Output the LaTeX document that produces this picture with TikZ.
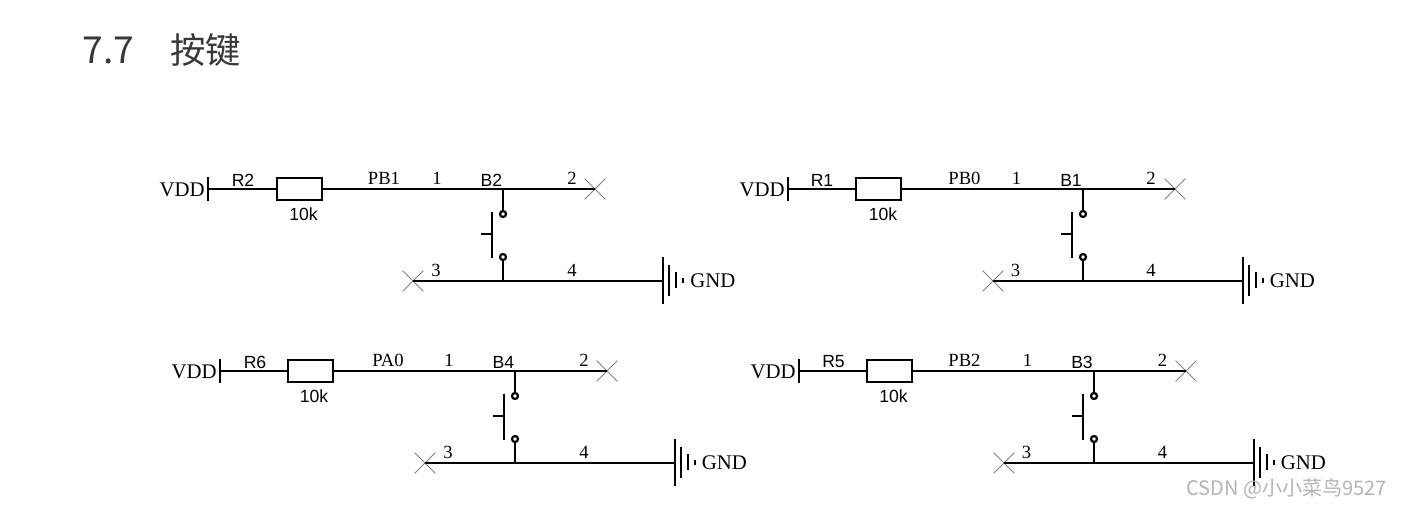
\documentclass[tikz,border=0pt]{standalone}
\usepackage{fontspec}
\setmainfont{Liberation Serif}
\setsansfont{Liberation Sans}
\newfontfamily\cjkfont{Noto Sans CJK SC}
\usetikzlibrary{shapes.misc}
\definecolor{markgray}{HTML}{B4B4B4}
\tikzset{
    wire/.style={line width=1.05pt},
    res/.style={draw,line width=1.05pt,minimum width=22.5pt,minimum height=11pt,inner sep=0pt},
    pad/.style={draw,circle,line width=1.1pt,minimum size=3pt,inner sep=0pt},
    nc/.style={draw=gray,cross out,line width=0.4pt,minimum size=10pt,inner sep=0pt},
    pinlabel/.style={inner sep=0pt,font=\fontsize{9.3}{11}\selectfont},
    netlabel/.style={inner sep=0pt,font=\fontsize{10.4}{12}\selectfont},
    partlabel/.style={inner sep=0pt,font=\sffamily\fontsize{8.8}{10}\selectfont}
}
\begin{document}
\begin{tikzpicture}[x=0.5pt,y=-0.5pt]
    \useasboundingbox (0,0) rectangle (1401,508);
    \node[inner sep=0pt,anchor=west,font=\cjkfont\fontsize{18.6}{20}\selectfont,text=black!78] (title) at (82,50) {7.7};
    \node[inner sep=0pt,anchor=west,font=\cjkfont\fontsize{17.7}{20}\selectfont,text=black!78] (titlecn) at (170,50) {按键};
    % R2 B2
    \begin{scope}
        \coordinate (r2vdd) at (208,189);
        \coordinate (b2top) at (503,189);
        \coordinate (b2bot) at (503,281);
        \coordinate (b2gnd) at (663,281);
        \node[res] (r2) at (299.5,189) {};
        \node[nc] (b2x2) at (595,189) {};
        \node[nc] (b2x3) at (413,281) {};
        \node[pad] (b2a) at (503,214) {};
        \node[pad] (b2b) at (503,257) {};
        \draw[wire] (r2vdd) -- (r2);
        \draw[wire] (r2) -- (b2x2.center);
        \draw[wire] (b2top) -- (b2a);
        \draw[wire] (b2b) -- (b2bot);
        \draw[wire] (b2x3.center) -- (b2gnd);
        \draw[wire] (208,177) -- (208,201);
        \draw[wire] (492,212) -- (492,258) (481,234) -- (492,234);
        \draw[wire] (663,257) -- (663,304) (669,265) -- (669,296) (676,272) -- (676,288) (683,278) -- (683,283);
        \node[netlabel,anchor=east] (vdd2) at (205,190) {VDD};
        \node[partlabel] (r2name) at (243,180) {R2};
        \node[partlabel] (r2val) at (303.5,214.5) {10k};
        \node[pinlabel] (net2) at (384,178) {PB1};
        \node[pinlabel] (b2p1) at (437,178) {1};
        \node[partlabel] (b2name) at (491.5,180) {B2};
        \node[pinlabel] (b2p2) at (572,178) {2};
        \node[pinlabel] (b2p3) at (436,270) {3};
        \node[pinlabel] (b2p4) at (572,270) {4};
        \node[netlabel,anchor=west] (gnd2) at (690,281) {GND};
    \end{scope}
    % R1 B1
    \begin{scope}[shift={(580,0)}]
        \coordinate (r1vdd) at (208,189);
        \coordinate (b1top) at (503,189);
        \coordinate (b1bot) at (503,281);
        \coordinate (b1gnd) at (663,281);
        \node[res] (r1) at (298.5,189) {};
        \node[nc] (b1x2) at (595,189) {};
        \node[nc] (b1x3) at (413,281) {};
        \node[pad] (b1a) at (503,214) {};
        \node[pad] (b1b) at (503,257) {};
        \draw[wire] (r1vdd) -- (r1);
        \draw[wire] (r1) -- (b1x2.center);
        \draw[wire] (b1top) -- (b1a);
        \draw[wire] (b1b) -- (b1bot);
        \draw[wire] (b1x3.center) -- (b1gnd);
        \draw[wire] (208,177) -- (208,201);
        \draw[wire] (492,212) -- (492,258) (481,234) -- (492,234);
        \draw[wire] (663,257) -- (663,304) (669,265) -- (669,296) (676,272) -- (676,288) (683,278) -- (683,283);
        \node[netlabel,anchor=east] (vdd1) at (205,190) {VDD};
        \node[partlabel] (r1name) at (242,180) {R1};
        \node[partlabel] (r1val) at (303,214.5) {10k};
        \node[pinlabel] (net1) at (384.5,178) {PB0};
        \node[pinlabel] (b1p1) at (436.5,178) {1};
        \node[partlabel] (b1name) at (491,180) {B1};
        \node[pinlabel] (b1p2) at (571,178) {2};
        \node[pinlabel] (b1p3) at (435.5,270) {3};
        \node[pinlabel] (b1p4) at (571,270) {4};
        \node[netlabel,anchor=west] (gnd1) at (689.5,281) {GND};
    \end{scope}
    % R6 B4
    \begin{scope}[shift={(12,182)}]
        \coordinate (r6vdd) at (208,189);
        \coordinate (b4top) at (503,189);
        \coordinate (b4bot) at (503,281);
        \coordinate (b4gnd) at (663,281);
        \node[res] (r6) at (298.5,189) {};
        \node[nc] (b4x2) at (595,189) {};
        \node[nc] (b4x3) at (413,281) {};
        \node[pad] (b4a) at (503,214) {};
        \node[pad] (b4b) at (503,257) {};
        \draw[wire] (r6vdd) -- (r6);
        \draw[wire] (r6) -- (b4x2.center);
        \draw[wire] (b4top) -- (b4a);
        \draw[wire] (b4b) -- (b4bot);
        \draw[wire] (b4x3.center) -- (b4gnd);
        \draw[wire] (208,177) -- (208,201);
        \draw[wire] (492,212) -- (492,258) (481,234) -- (492,234);
        \draw[wire] (663,257) -- (663,304) (669,265) -- (669,296) (676,272) -- (676,288) (683,278) -- (683,283);
        \node[netlabel,anchor=east] (vdd6) at (205,190) {VDD};
        \node[partlabel] (r6name) at (243,180) {R6};
        \node[partlabel] (r6val) at (302,214.5) {10k};
        \node[pinlabel] (net6) at (376,178) {PA0};
        \node[pinlabel] (b4p1) at (437,178) {1};
        \node[partlabel] (b4name) at (491.5,180) {B4};
        \node[pinlabel] (b4p2) at (572,178) {2};
        \node[pinlabel] (b4p3) at (436,270) {3};
        \node[pinlabel] (b4p4) at (572,270) {4};
        \node[netlabel,anchor=west] (gnd6) at (689.5,281) {GND};
    \end{scope}
    % R5 B3
    \begin{scope}[shift={(591,182)}]
        \coordinate (r5vdd) at (208,189);
        \coordinate (b3top) at (503,189);
        \coordinate (b3bot) at (503,281);
        \coordinate (b3gnd) at (663,281);
        \node[res] (r5) at (298.5,189) {};
        \node[nc] (b3x2) at (595,189) {};
        \node[nc] (b3x3) at (413,281) {};
        \node[pad] (b3a) at (503,214) {};
        \node[pad] (b3b) at (503,257) {};
        \draw[wire] (r5vdd) -- (r5);
        \draw[wire] (r5) -- (b3x2.center);
        \draw[wire] (b3top) -- (b3a);
        \draw[wire] (b3b) -- (b3bot);
        \draw[wire] (b3x3.center) -- (b3gnd);
        \draw[wire] (208,177) -- (208,201);
        \draw[wire] (492,212) -- (492,258) (481,234) -- (492,234);
        \draw[wire] (663,257) -- (663,304) (669,265) -- (669,296) (676,272) -- (676,288) (683,278) -- (683,283);
        \node[netlabel,anchor=east] (vdd5) at (205,190) {VDD};
        \node[partlabel] (r5name) at (242.5,180) {R5};
        \node[partlabel] (r5val) at (302.5,214.5) {10k};
        \node[pinlabel] (net5) at (373.5,178) {PB2};
        \node[pinlabel] (b3p1) at (436.5,178) {1};
        \node[partlabel] (b3name) at (491,180) {B3};
        \node[pinlabel] (b3p2) at (571.5,178) {2};
        \node[pinlabel] (b3p3) at (435.5,270) {3};
        \node[pinlabel] (b3p4) at (571.5,270) {4};
        \node[netlabel,anchor=west] (gnd5) at (689.5,281) {GND};
    \end{scope}
    \node[inner sep=0pt,anchor=east,font=\cjkfont\fontsize{10}{12}\selectfont,text=markgray] (watermark) at (1387,489) {CSDN @小小菜鸟9527};
\end{tikzpicture}
\end{document}
